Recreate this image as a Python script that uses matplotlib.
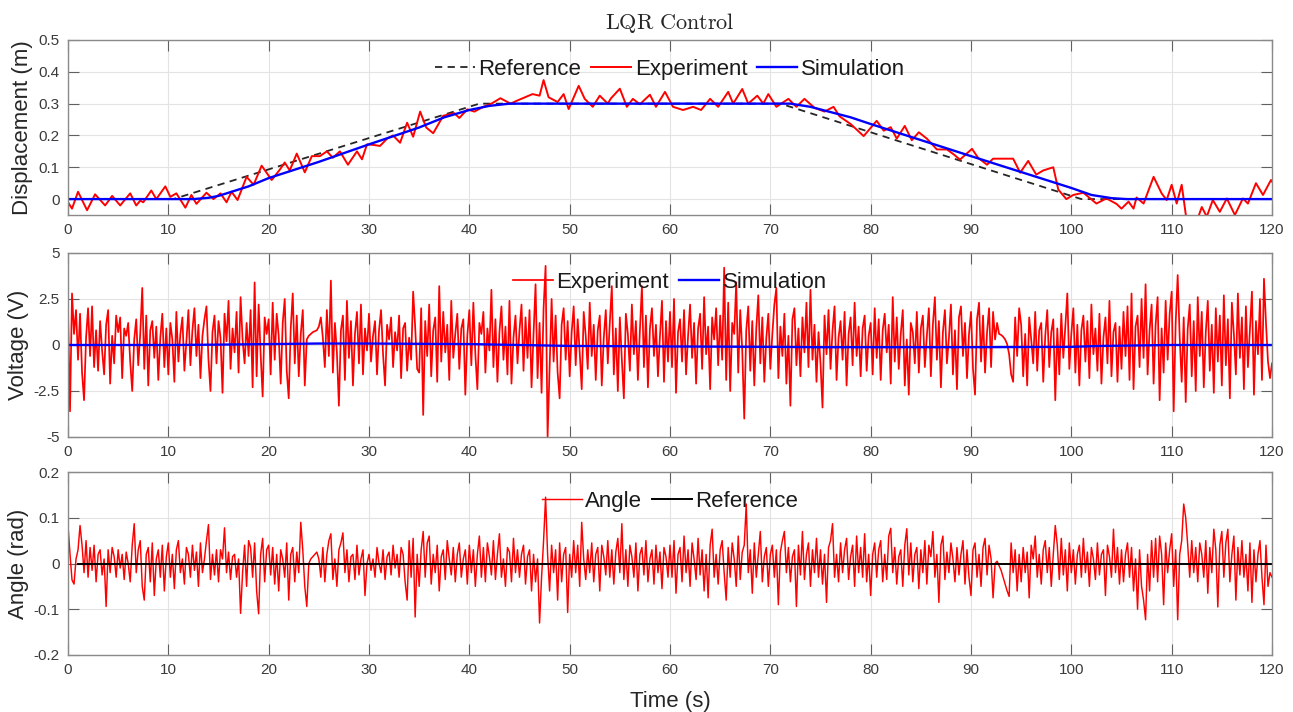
import numpy as np
import matplotlib
matplotlib.use("Agg")
import matplotlib.pyplot as plt

plt.rcParams['font.family'] = ['Liberation Sans', 'DejaVu Sans']
plt.rcParams['mathtext.fontset'] = 'cm'
plt.rcParams['axes.unicode_minus'] = False

# ---------------- data ----------------
xticks = [0, 10, 20, 30, 40, 50, 60, 70, 80, 90, 100, 110, 120]

# Displacement panel
disp_ref_t = [0, 10.5, 41, 71, 101, 120]
disp_ref_v = [0, 0, 0.3, 0.3, 0, 0]

disp_sim_t = [0, 12.5, 14, 15, 16.5, 18, 20, 25, 30, 35, 37.5, 40, 42, 44, 72, 74, 78, 80, 90, 100, 102, 104, 105.5, 120]
disp_sim_v = [0, 0, 0.004, 0.01, 0.025, 0.04, 0.066, 0.117, 0.172, 0.225, 0.257, 0.28, 0.293, 0.3, 0.3, 0.29, 0.257, 0.236, 0.135, 0.035, 0.013, 0.003, 0, 0]

disp_exp_t = [0.0, 0.4, 1.0, 1.9, 2.7, 3.7, 4.4, 5.2, 6.2, 6.8, 7.2, 7.5, 8.3, 8.8, 9.7, 10.2, 10.8, 11.7,
              12.3, 12.8, 13.8, 14.5, 15.2, 15.8, 16.3, 16.9, 17.8, 18.5, 19.3, 20.3, 21.1, 21.6, 22.1,
              22.8, 23.6, 24.3, 25.1, 25.8, 26.4, 27.1, 27.9, 28.8, 29.3, 29.8, 30.5, 31.1, 31.8, 32.4,
              33.1, 33.8, 34.4, 35.1, 35.7, 36.4, 37.4, 38.5, 39.0, 39.8, 40.5, 41.4, 42.2, 43.1, 44.1,
              44.8, 45.4, 46.3, 47.0, 47.4, 47.9, 48.8, 49.4, 49.9, 50.9, 51.5, 52.3, 53.0, 53.8, 54.1,
              55.0, 55.7, 56.3, 57.0, 58.0, 58.6, 59.5, 60.3, 61.3, 62.3, 63.1, 64.0, 64.8, 65.8, 66.3,
              67.2, 67.8, 68.7, 69.3, 69.8, 70.6, 71.8, 72.6, 73.4, 74.4, 75.4, 76.3, 76.9, 78.0, 79.3,
              80.6, 81.3, 82.0, 82.6, 83.4, 84.1, 84.8, 85.6, 86.6, 87.6, 88.3, 88.9, 90.1, 90.7, 91.6,
              92.2, 94.2, 94.9, 95.7, 96.5, 97.2, 98.2, 98.7, 99.5, 100.2, 101.2, 102.5, 103.5, 104.5,
              105.0, 105.7, 106.2, 106.5, 107.2, 108.2, 109.0, 109.5, 110.0, 110.5, 111.0, 111.5, 112.5,
              113.0, 113.5, 114.1, 114.8, 115.5, 116.3, 117.1, 117.6, 118.4, 119.1, 119.9, 120.0]
disp_exp_v = [-0.01, -0.03, 0.023, -0.035, 0.015, -0.02, 0.01, -0.02, 0.018, -0.02, -0.005, -0.01, 0.027, 0.0,
              0.04, 0.007, 0.018, -0.027, 0.013, -0.015, 0.02, 0.0, 0.018, -0.01, 0.023, -0.003, 0.07, 0.045,
              0.105, 0.06, 0.092, 0.115, 0.09, 0.143, 0.084, 0.135, 0.135, 0.15, 0.13, 0.15, 0.108, 0.15,
              0.125, 0.172, 0.17, 0.167, 0.19, 0.2, 0.177, 0.24, 0.196, 0.275, 0.225, 0.207, 0.262, 0.27,
              0.255, 0.282, 0.275, 0.29, 0.3, 0.317, 0.3, 0.31, 0.318, 0.33, 0.325, 0.374, 0.32, 0.305,
              0.33, 0.283, 0.356, 0.315, 0.29, 0.325, 0.3, 0.316, 0.347, 0.29, 0.315, 0.298, 0.328, 0.29,
              0.337, 0.29, 0.28, 0.29, 0.28, 0.315, 0.29, 0.337, 0.3, 0.346, 0.3, 0.325, 0.3, 0.33, 0.29,
              0.315, 0.29, 0.315, 0.287, 0.275, 0.29, 0.26, 0.236, 0.198, 0.246, 0.215, 0.226, 0.19, 0.23,
              0.185, 0.21, 0.19, 0.156, 0.156, 0.14, 0.124, 0.158, 0.13, 0.108, 0.127, 0.127, 0.083, 0.12,
              0.077, 0.09, 0.1, 0.03, 0.0, 0.013, 0.02, -0.014, 0.002, -0.015, -0.03, -0.008, -0.03, 0.005,
              -0.014, 0.07, 0.018, -0.003, 0.045, -0.014, 0.045, -0.07, -0.07, -0.025, -0.055, -0.003,
              -0.04, 0.002, -0.05, 0.002, -0.014, 0.05, 0.013, 0.06, 0.055]

# Voltage panel (experiment sampled every 0.2 s)
volt_dt = 0.2
volt_exp = [
    1.8, -3.6, 2.8, 0.6, 1.9, -0.8, 1.7, -1.5, -3.0, 0.4, 2.0, -0.6, 2.1, -1.2, 0.8, -1.4, 1.3, -0.3, -1.6, 1.1, 1.9, -2.1, 0.5, -1.0, 1.6,
    0.7, 1.5, -1.8, 0.9, 0.5, 1.2, -0.9, -2.5, 0.3, 1.4, -1.1, 0.6, 3.1, -1.3, 1.6, -2.2, 0.8, 1.3, -0.7, 1.0, -1.9, 0.4, 1.7, -1.2, 0.9,
    -1.6, 1.2, 0.3, -2.0, 1.8, -0.9, 0.6, 1.5, -1.4, 0.2, 1.9, -1.1, 0.8, 2.0, -0.6, 1.1, -1.8, 0.5, 1.4, 2.1, -0.8, -2.5, 0.7, 1.6, -1.0,
    1.3, 0.4, -2.6, 1.7, 0.2, 2.4, -1.3, 0.9, -0.4, 1.8, -1.5, 2.6, 0.3, -1.0, 1.2, -0.6, 1.9, -2.3, 3.4, -1.7, 2.2, -0.5, -2.8, 1.5, 0.6,
    1.4, -1.6, 2.3, -0.8, 1.7, 0.5, -2.1, 1.2, 2.5, -1.4, -2.9, 0.9, 2.8, -1.0, 1.6, -1.7, 0.6, 1.9, -2.2, 0.3, 0.5, 0.6, 0.7, 0.75, 0.8,
    1.0, 1.5, 0.4, -1.2, 1.9, -0.6, 3.5, -1.5, 1.2, -0.4, -3.3, 0.8, 1.6, -1.9, 2.4, -0.7, 1.3, -2.2, 0.6, 1.8, -1.0, 2.2, -1.6, 0.9, -0.3,
    1.7, -0.9, 0.5, 1.3, -1.6, 0.8, 1.9, -0.5, -2.2, 1.1, 0.3, 1.5, -1.2, 0.7, -0.3, 1.6, -1.8, 0.9, 1.2, -1.4, 0.4, -0.8, 2.9, 1.0, -1.3,
    -1.5, 2.0, -3.8, 1.3, -0.6, 2.2, -1.7, 0.8, 1.5, -2.0, 3.2, -0.9, 1.8, -0.4, 1.1, -1.9, 2.4, -0.7, 0.6, 1.7, -1.3, 0.9, 1.4, -2.7, 0.5,
    1.9, -1.1, 2.3, -0.5, -2.4, 1.2, 0.6, 1.8, -1.5, 0.9, -0.3, 3.0, -1.2, 1.4, -2.0, 0.7, 2.1, -0.8, 1.0, -1.6, 2.4, -2.1, 0.4, 1.6, -1.0,
    0.8, 2.2, -1.4, 1.5, -0.7, 1.9, -2.3, 0.6, 3.3, -1.8, 1.2, -2.6, 2.0, 4.3, -5.0, -1.2, 2.5, -0.9, 1.6, -1.5, -2.9, 1.1, 2.0, -0.8, 1.3,
    -1.7, 0.7, 2.1, -1.1, 1.4, -0.4, -2.4, 1.8, 0.5, -1.3, 2.3, -0.6, 1.1, -1.9, 0.8, 1.6, -2.2, 0.4, 1.9, -1.0, 1.2, 3.2, -1.6, 0.9, -2.5,
    1.5, -0.8, -2.9, 1.7, 0.6, -1.4, 2.2, -0.5, 1.3, -1.9, 0.8, 3.2, -1.2, 1.6, -2.3, 0.9, 2.0, -0.6, 1.1, -1.7, 0.5, 2.4, -2.0, 1.3, -0.9,
    1.8, -1.2, 2.5, -2.6, 0.7, 1.4, -0.9, 1.9, -1.6, 0.5, 2.2, -0.7, 1.2, -2.1, 0.9, 1.7, -1.3, 2.6, -0.5, 1.0, -2.4, 1.5, 0.3, 2.0, -1.1,
    1.6, -0.8, 4.2, -1.9, 2.3, -2.5, 1.2, 0.6, 3.4, -1.5, 1.9, -0.3, -4.0, 0.8, 2.1, -1.4, 1.3, -2.2, 0.9, 2.7, -1.0, 1.5, -2.0, 0.4, 1.7,
    -1.3, 0.6, 2.2, 3.1, -1.8, 1.0, -0.6, 1.7, -2.1, 0.5, -3.3, 1.4, 2.0, -1.1, 0.9, -1.7, 1.5, -0.4, 2.3, -1.2, 3.0, -0.8, 1.1, -2.0, 0.7,
    -1.0, -3.4, 1.6, -0.5, 1.9, -1.3, 0.8, 2.1, -1.9, 0.4, 1.3, -0.8, 1.8, -2.2, 0.6, 1.5, -1.1, 2.3, -0.6, 1.0, -1.7, 0.9, 1.6, -1.4, 0.5,
    1.2, -1.6, 2.0, -0.7, 1.4, -1.9, 0.8, 1.7, -0.4, 1.1, -2.1, 2.6, -0.9, 1.5, -1.3, 0.6, 1.9, -2.2, 0.3, -2.7, 1.2, 0.7, -1.0, 1.8, -1.5,
    0.9, 1.6, -1.2, 0.5, 2.0, -1.7, 1.1, 2.6, -0.8, 1.3, -2.3, 0.7, 1.9, -1.0, 0.4, 2.2, -1.6, 0.8, -2.4, 1.5, 2.1, -0.6, 1.2, -1.8, 0.6,
    1.8, -1.3, -2.7, 1.4, 2.3, -0.9, 1.6, -1.5, 0.7, 2.0, -1.2, 1.8, 0.3, 1.2, 0.6, 0.55, 0.45, 0.3, 0.05, -0.5, -1.6, -2.0, 1.5, -0.6, 2.0,
    1.1, -1.7, 0.6, -2.2, 1.5, 0.3, -1.0, 1.8, -1.4, 0.8, 1.2, -2.0, 0.5, 1.9, -1.2, 0.7, 1.4, -3.0, 0.9, -1.6, 1.7, -0.7, 1.0, 2.8, -1.3,
    0.6, 2.0, -1.5, 1.1, -2.2, 0.8, 1.6, -0.9, 1.3, -1.8, 2.2, -0.5, 0.9, -1.4, 1.7, -2.1, 0.4, 1.5, -1.0, 2.4, -1.7, 0.7, 1.2, -2.0, 1.0,
    -1.3, 1.8, -0.6, 2.1, -1.9, 2.8, -2.4, 1.0, 1.6, -1.2, 2.5, -0.7, 3.3, -1.6, 0.8, 2.2, -2.1, 1.1, 2.6, -3.0, 0.9, -1.5, 2.4, -0.8, 1.7,
    2.9, -3.6, 1.2, 3.8, 0.4, -2.0, 1.5, -3.1, 0.9, 2.2, -1.7, 1.3, -2.5, 2.6, -0.6, 1.8, -2.3, 0.7, 2.4, -1.4, 1.1, -2.6, 2.0, -0.9, 1.6,
    -2.2, 2.7, -1.1, 1.4, -2.9, 2.3, 0.6, -1.6, 2.8, -0.7, 1.5, -2.4, 2.1, -1.2, 0.8, 2.9, -2.7, 1.3, -0.5, 2.5, -1.9, 3.6, 1.2, -0.9, -1.8,
    -1.0]
volt_sim_t = [0, 10, 15, 20, 25, 30, 40, 45, 50, 60, 70, 75, 80, 90, 100, 103, 110, 120]
volt_sim_v = [0, 0, 0.02, 0.05, 0.08, 0.08, 0.05, 0.0, -0.05, -0.08, -0.1, -0.12, -0.12, -0.12, -0.1, -0.05, 0.0, 0.0]

# Angle panel (experiment sampled every 0.2 s)
ang_dt = 0.2
ang_exp = [
    0.083, 0.02, -0.036, -0.045, 0.01, 0.03, 0.083, 0.04, -0.02, 0.05, -0.03, 0.035, -0.015, 0.04, -0.04, 0.02, 0.03, -0.025, 0.01, -0.094, 0.03, -0.02, 0.035, 0.015, -0.03,
    0.03, -0.01, 0.02, -0.035, 0.025, 0.0, -0.04, 0.04, 0.087, -0.02, 0.03, 0.05, -0.05, -0.08, 0.02, 0.035, -0.04, 0.045, -0.07, 0.01, 0.03, -0.03, 0.04, -0.06, 0.015,
    0.045, -0.03, 0.02, -0.055, 0.03, 0.05, -0.02, 0.01, -0.045, 0.035, 0.02, -0.03, 0.04, -0.015, 0.025, -0.05, 0.045, -0.02, 0.01, 0.05, 0.085, -0.035, 0.02, -0.025, 0.03,
    -0.04, 0.03, 0.01, 0.078, -0.02, 0.025, -0.035, 0.015, 0.02, -0.03, 0.01, -0.109, -0.02, 0.04, -0.05, 0.05, 0.035, -0.03, 0.045, -0.06, -0.11, 0.02, 0.055, -0.04, 0.03,
    0.04, -0.025, 0.035, -0.045, 0.02, -0.06, 0.03, 0.01, -0.03, 0.045, -0.08, 0.02, 0.035, -0.04, 0.025, -0.02, 0.09, 0.03, -0.05, -0.094, 0.0, 0.01, 0.015, 0.02, 0.025,
    0.01, -0.03, 0.035, -0.04, 0.02, 0.05, 0.065, -0.035, 0.01, -0.05, 0.03, 0.045, 0.067, -0.02, 0.03, -0.04, 0.015, 0.02, -0.035, 0.04, -0.025, 0.01, 0.03, -0.07, 0.0,
    0.02, -0.015, 0.01, -0.03, 0.035, 0.0, -0.02, 0.03, -0.035, 0.015, 0.025, -0.025, 0.04, -0.01, 0.02, -0.03, 0.035, 0.02, -0.04, -0.08, 0.05, -0.03, 0.055, -0.117, 0.02,
    -0.05, 0.03, 0.07, -0.03, 0.045, 0.06, -0.045, 0.02, -0.02, 0.04, -0.06, 0.015, 0.03, -0.035, 0.05, 0.01, -0.025, 0.035, -0.04, 0.02, 0.045, -0.03, 0.01, 0.03, -0.045,
    0.04, -0.02, 0.03, -0.05, 0.02, 0.06, -0.03, 0.035, -0.04, 0.045, 0.015, -0.025, 0.05, -0.035, 0.02, 0.065, -0.03, 0.01, -0.05, 0.035, 0.025, -0.04, 0.055, -0.02, 0.03,
    -0.03, 0.02, 0.04, -0.045, 0.015, 0.03, -0.06, 0.02, -0.04, 0.01, -0.13, -0.03, 0.05, 0.145, 0.02, -0.06, 0.04, -0.02, 0.03, -0.08, 0.045, -0.04, 0.02, 0.035, -0.107,
    0.02, -0.03, 0.05, -0.02, 0.04, -0.05, 0.09, 0.01, -0.035, 0.03, -0.02, 0.045, -0.04, 0.02, 0.035, -0.06, 0.04, 0.015, -0.025, 0.05, -0.03, 0.03, -0.045, 0.025, 0.055,
    -0.02, 0.087, -0.035, 0.03, -0.05, 0.04, 0.015, -0.03, 0.045, -0.06, 0.02, 0.035, -0.025, 0.05, -0.04, 0.01, 0.03, -0.045, 0.04, -0.02, 0.025, -0.055, 0.035, 0.015, -0.03,
    0.04, -0.03, 0.05, -0.065, 0.02, 0.035, -0.04, 0.06, -0.02, 0.03, -0.05, 0.045, 0.01, -0.035, 0.055, -0.025, 0.03, -0.06, 0.02, -0.075, 0.04, 0.075, -0.03, 0.02, -0.045,
    0.03, 0.05, -0.02, -0.08, 0.035, -0.03, 0.045, 0.01, -0.05, 0.06, -0.035, 0.025, 0.04, 0.13, -0.02, 0.03, -0.065, 0.045, -0.03, 0.02, 0.07, -0.04, 0.015, 0.035, -0.05,
    0.02, 0.04, -0.03, 0.03, -0.09, 0.025, 0.05, 0.07, -0.02, 0.035, -0.04, 0.015, 0.03, -0.094, 0.04, -0.025, 0.07, -0.035, 0.02, 0.045, -0.05, 0.03, -0.02, 0.055, -0.03,
    0.03, -0.045, 0.02, -0.085, 0.035, 0.05, 0.087, -0.03, 0.02, -0.04, 0.045, -0.02, 0.03, 0.055, -0.035, 0.015, 0.04, -0.05, 0.06, -0.02, 0.035, -0.03, 0.065, -0.04, 0.02,
    -0.07, 0.02, 0.045, -0.03, 0.03, 0.05, -0.04, 0.02, -0.035, 0.06, 0.077, -0.02, 0.035, -0.045, 0.015, 0.03, -0.05, 0.04, 0.076, -0.025, 0.045, -0.04, 0.02, 0.035, -0.055,
    0.03, -0.02, 0.05, -0.045, 0.04, 0.015, 0.07, -0.03, 0.02, -0.085, 0.04, 0.06, -0.035, 0.025, -0.02, 0.045, 0.01, -0.04, 0.035, -0.025, 0.02, 0.05, -0.045, 0.03, -0.03,
    -0.07, 0.03, 0.045, -0.03, 0.02, -0.05, 0.035, 0.055, -0.025, 0.04, 0.01, -0.075, 0.0, 0.005, -0.005, -0.015, -0.03, -0.045, -0.06, -0.072, 0.045, -0.02, 0.03, -0.06, 0.02,
    -0.04, 0.035, -0.02, 0.025, -0.075, 0.04, 0.01, 0.06, -0.03, 0.02, -0.045, 0.03, 0.05, -0.02, 0.035, -0.05, 0.02, 0.083, 0.04, -0.035, 0.055, -0.025, 0.03, -0.06, 0.045,
    -0.02, 0.03, -0.045, 0.02, 0.04, -0.03, 0.055, -0.02, 0.025, -0.05, 0.035, 0.01, -0.035, 0.045, -0.025, 0.02, 0.03, -0.07, 0.04, 0.015, -0.03, 0.075, -0.02, 0.035, -0.045,
    0.03, -0.04, 0.02, 0.045, -0.03, 0.035, -0.06, 0.01, -0.1, 0.03, -0.05, -0.08, -0.123, 0.02, -0.06, 0.05, -0.03, 0.055, -0.04, 0.06, 0.02, -0.09, 0.045, -0.02, 0.03,
    0.065, -0.05, 0.03, -0.123, 0.02, 0.05, 0.13, 0.1, 0.04, -0.03, 0.05, -0.02, 0.035, -0.04, 0.045, 0.02, -0.03, 0.05, -0.065, 0.035, -0.02, 0.075, 0.03, -0.095, 0.04,
    0.07, -0.03, 0.045, 0.075, -0.04, 0.02, 0.06, -0.08, 0.035, -0.025, 0.05, -0.03, 0.02, -0.06, 0.045, -0.085, 0.03, -0.04, 0.02, 0.05, -0.03, -0.09, 0.04, -0.05, -0.02,
    -0.03]
ang_ref_t = [1.0, 120.0]
ang_ref_v = [0.0, 0.0]

# ---------------- figure ----------------
W, H = 1293, 712
fig = plt.figure(figsize=(W / 100, H / 100), dpi=100)

def box(top, bottom):
    return [68 / W, 1 - bottom / H, 1204 / W, (bottom - top) / H]

ax1 = fig.add_axes(box(40, 215))
ax2 = fig.add_axes(box(253, 437))
ax3 = fig.add_axes(box(472, 655))

spine_c = '#8a8a8a'
tick_c = '#3a3a3a'

def style(ax, ylim, yticks, ylabels):
    ax.set_xlim(0, 120)
    ax.set_ylim(*ylim)
    ax.set_xticks(xticks)
    ax.set_yticks(yticks)
    ax.set_yticklabels(ylabels)
    ax.grid(True, color='#e3e3e3', linewidth=0.8)
    ax.set_axisbelow(True)
    for s in ax.spines.values():
        s.set_color(spine_c)
        s.set_linewidth(1.0)
    ax.tick_params(direction='in', length=8, width=0.8, color='#606060',
                   top=True, right=True, labelsize=11, labelcolor=tick_c, pad=6)

def legend(ax, ncol):
    ax.legend(loc='upper center', ncol=ncol, frameon=False, fontsize=16, handlelength=1.8,
              handletextpad=0.15, columnspacing=0.45, borderaxespad=0.45, labelcolor='#1a1a1a')

t_v = np.arange(len(volt_exp)) * volt_dt
t_a = np.arange(len(ang_exp)) * ang_dt

# Displacement
ax1.plot(disp_ref_t, disp_ref_v, '--', color='#262626', lw=1.3, label='Reference', dashes=(4, 3))
ax1.plot(disp_exp_t, disp_exp_v, color='red', lw=1.4, label='Experiment')
ax1.plot(disp_sim_t, disp_sim_v, color='blue', lw=1.7, label='Simulation')
style(ax1, (-0.05, 0.5), [0, 0.1, 0.2, 0.3, 0.4, 0.5], ['0', '0.1', '0.2', '0.3', '0.4', '0.5'])
ax1.set_ylabel('Displacement (m)', fontsize=16, color='#262626', labelpad=4)
ax1.set_title(r'$\mathrm{LQR\ Control}$', fontsize=16, pad=8, color='#262626')
legend(ax1, 3)

# Voltage
ax2.plot(t_v, volt_exp, color='red', lw=1.25, label='Experiment')
ax2.plot(volt_sim_t, volt_sim_v, color='blue', lw=1.7, label='Simulation')
style(ax2, (-5, 5), [-5, -2.5, 0, 2.5, 5], ['-5', '-2.5', '0', '2.5', '5'])
ax2.set_ylabel('Voltage (V)', fontsize=16, color='#262626', labelpad=3)
legend(ax2, 2)

# Angle
ax3.plot(t_a, ang_exp, color='red', lw=1.05, label='Angle')
ax3.plot(ang_ref_t, ang_ref_v, color='black', lw=1.4, label='Reference')
style(ax3, (-0.2, 0.2), [-0.2, -0.1, 0, 0.1, 0.2], ['-0.2', '-0.1', '0', '0.1', '0.2'])
ax3.set_ylabel('Angle (rad)', fontsize=16, color='#262626', labelpad=3)
ax3.set_xlabel('Time (s)', fontsize=16, color='#262626', labelpad=10)
legend(ax3, 2)

fig.savefig('out.png', dpi=100)
